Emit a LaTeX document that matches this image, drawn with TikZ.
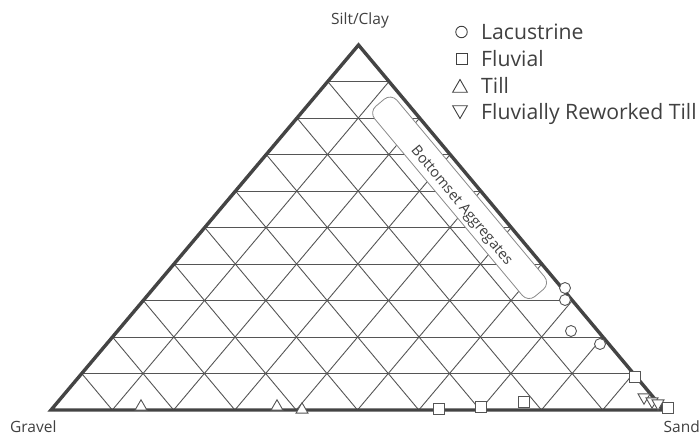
\documentclass[tikz,border=0pt]{standalone}
\usepackage{fontspec}
\setmainfont{Open Sans}
\usetikzlibrary{shapes.geometric,calc}
\definecolor{edgec}{HTML}{444444}
\definecolor{gridc}{HTML}{555555}
\definecolor{txtc}{HTML}{404040}
\definecolor{boxc}{HTML}{8A8A8A}
\begin{document}
\begin{tikzpicture}[x=1pt,y=-1pt,
  outline/.style={draw=edgec,line width=3.4pt,line join=miter},
  gridline/.style={draw=gridc,line width=0.9pt},
  mk/.style={draw=gridc,fill=white,line width=0.9pt,inner sep=0pt},
  circ/.style={mk,circle,minimum size=11pt},
  sq/.style={mk,rectangle,minimum size=11pt},
  tup/.style={mk,regular polygon,regular polygon sides=3,minimum size=13.9pt},
  tdown/.style={tup,shape border rotate=180},
  lbl/.style={text=txtc,font=\fontsize{15.5}{18}\selectfont,inner sep=0pt},
  leg/.style={text=txtc,font=\fontsize{21.2}{25}\selectfont,inner sep=0pt,anchor=base west},
]
\useasboundingbox (0,0) rectangle (700,435);
\coordinate (A) at (51,410);
\coordinate (B) at (664,410);
\coordinate (C) at (358.5,45);
% grid
\foreach \i in {1,...,9}{
  \draw[gridline] ($(A)!\i/10!(C)$) -- ($(B)!\i/10!(C)$);
  \draw[gridline] ($(A)!\i/10!(B)$) -- ($(A)!\i/10!(C)$);
  \draw[gridline] ($(A)!\i/10!(B)$) -- ($(B)!1-\i/10!(C)$);
}
% rounded box
\node[draw=boxc, fill=white, line width=0.8pt, rounded corners=9pt,
      minimum width=248pt, minimum height=29pt, rotate=-50.1, inner sep=0pt]
      (box) at (459.6,197.8) {};
\node[lbl, font=\fontsize{14.5}{17}\selectfont, rotate=-50.1] (boxlabel) at (461.3,206.1) {Bottomset Aggregates};
% outline
\draw[outline] (A) -- (B) -- (C) -- cycle;
% vertex labels
\node[lbl] (silt) at (360,20) {Silt/Clay};
\node[lbl,anchor=west] (gravel) at (10,427) {Gravel};
\node[lbl,anchor=east] (sand) at (700,427) {Sand};
% data: lacustrine
\node[circ] (c1) at (565,288) {};
\node[circ] (c2) at (565,300) {};
\node[circ] (c3) at (571,331) {};
\node[circ] (c4) at (600,344) {};
% data: fluvial
\node[sq] (s1) at (635,377) {};
\node[sq] (s2) at (668,408) {};
\node[sq] (s3) at (439,409) {};
\node[sq] (s4) at (481,407) {};
\node[sq] (s5) at (524,402) {};
% data: till
\node[tup] (u1) at (141,406.7) {};
\node[tup] (u2) at (277,406.7) {};
\node[tup] (u3) at (302,409.7) {};
% data: fluvially reworked till
\node[tdown] (d1) at (644,397.3) {};
\node[tdown] (d2) at (652,401.3) {};
\node[tdown] (d3) at (658,403.3) {};
% legend
\node[circ, draw=txtc, minimum size=11.5pt] (l1) at (461.5,32) {};
\node[sq, draw=txtc, minimum size=11pt] (l2) at (462,59) {};
\node[tup, draw=txtc, minimum size=17pt] (l3) at (460,88) {};
\node[tdown, draw=txtc, minimum size=17pt] (l4) at (460,110) {};
\node[leg] (t1) at (481,40) {Lacustrine};
\node[leg] (t2) at (481,67) {Fluvial};
\node[leg] (t3) at (481,94) {Till};
\node[leg] (t4) at (481,120) {Fluvially Reworked Till};
\end{tikzpicture}
\end{document}
